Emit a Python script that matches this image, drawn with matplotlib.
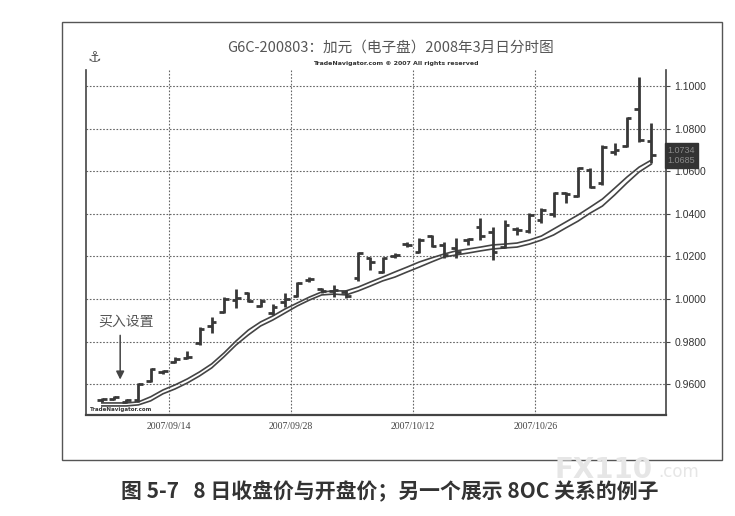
import matplotlib
matplotlib.use("Agg")
import matplotlib.pyplot as plt
from matplotlib.patches import Rectangle
import pandas as pd

plt.rcParams["font.family"] = ["Noto Sans CJK SC", "DejaVu Sans"]

# ----------------------------------------------------------------------
# Data (daily OHLC, CAD futures)
# ----------------------------------------------------------------------
dates = pd.bdate_range("2007-09-06", periods=46)

opens = [0.9526, 0.9530, 0.9516, 0.9526, 0.9615, 0.9657, 0.9704, 0.9723, 0.9793, 0.9873,
         0.9939, 0.9995, 1.0028, 0.9967, 0.9934, 0.9986, 1.0014, 1.0089, 1.0047, 1.0038,
         1.0033, 1.0099, 1.0193, 1.0127, 1.0202, 1.0258, 1.0221, 1.0296, 1.0254, 1.0240,
         1.0277, 1.0338, 1.0315, 1.0244, 1.0329, 1.0319, 1.0371, 1.0399, 1.0498, 1.0484,
         1.0606, 1.0545, 1.0691, 1.0719, 1.0893, 1.0742]
highs = [0.9535, 0.9544, 0.9530, 0.9606, 0.9676, 0.9667, 0.9728, 0.9756, 0.9868, 0.9915,
         1.0009, 1.0047, 1.0033, 1.0000, 0.9977, 1.0028, 1.0080, 1.0103, 1.0052, 1.0066,
         1.0042, 1.0221, 1.0197, 1.0197, 1.0216, 1.0268, 1.0287, 1.0301, 1.0268, 1.0287,
         1.0287, 1.0381, 1.0338, 1.0371, 1.0338, 1.0404, 1.0428, 1.0503, 1.0503, 1.0620,
         1.0615, 1.0723, 1.0733, 1.0855, 1.1043, 1.0827]
lows = [0.9516, 0.9526, 0.9512, 0.9516, 0.9610, 0.9648, 0.9699, 0.9718, 0.9784, 0.9840,
        0.9934, 0.9958, 0.9986, 0.9962, 0.9925, 0.9962, 1.0009, 1.0080, 1.0028, 1.0009,
        1.0005, 1.0085, 1.0136, 1.0122, 1.0193, 1.0244, 1.0216, 1.0244, 1.0193, 1.0193,
        1.0254, 1.0277, 1.0183, 1.0240, 1.0301, 1.0310, 1.0357, 1.0385, 1.0451, 1.0479,
        1.0521, 1.0536, 1.0677, 1.0714, 1.0738, 1.0639]
closes = [0.9530, 0.9540, 0.9526, 0.9601, 0.9671, 0.9662, 0.9718, 0.9728, 0.9859, 0.9892,
          1.0000, 1.0005, 0.9991, 0.9991, 0.9962, 1.0000, 1.0075, 1.0094, 1.0038, 1.0042,
          1.0014, 1.0216, 1.0174, 1.0193, 1.0207, 1.0254, 1.0277, 1.0249, 1.0207, 1.0221,
          1.0282, 1.0296, 1.0221, 1.0348, 1.0324, 1.0395, 1.0418, 1.0498, 1.0494, 1.0615,
          1.0526, 1.0714, 1.0700, 1.0850, 1.0747, 1.0677]

# 8-day moving averages as drawn (close above, open below)
ma_close = [0.9511, 0.9511, 0.9511, 0.9516, 0.9540, 0.9572, 0.9596, 0.9624, 0.9657, 0.9695,
            0.9746, 0.9803, 0.9854, 0.9892, 0.9920, 0.9953, 0.9981, 1.0009, 1.0033, 1.0038,
            1.0038, 1.0056, 1.0080, 1.0103, 1.0127, 1.0150, 1.0174, 1.0193, 1.0211, 1.0226,
            1.0235, 1.0244, 1.0254, 1.0258, 1.0263, 1.0277, 1.0296, 1.0329, 1.0362, 1.0395,
            1.0432, 1.0470, 1.0521, 1.0573, 1.0620, 1.0653]
ma_open = [0.9497, 0.9497, 0.9497, 0.9502, 0.9521, 0.9554, 0.9577, 0.9605, 0.9638, 0.9676,
           0.9728, 0.9784, 0.9831, 0.9873, 0.9901, 0.9934, 0.9967, 0.9995, 1.0019, 1.0023,
           1.0019, 1.0038, 1.0061, 1.0085, 1.0103, 1.0127, 1.0150, 1.0174, 1.0197, 1.0207,
           1.0216, 1.0226, 1.0235, 1.0240, 1.0244, 1.0258, 1.0277, 1.0301, 1.0334, 1.0366,
           1.0404, 1.0437, 1.0489, 1.0545, 1.0597, 1.0634]

tick_labels = ["2007/09/14", "2007/09/28", "2007/10/12", "2007/10/26"]
price_ticks = [0.96, 0.98, 1.00, 1.02, 1.04, 1.06, 1.08, 1.10]
box_labels = ["1.0734", "1.0685"]

title = "G6C-200803：加元（电子盘）2008年3月日分时图"
caption = "图 5-7   8 日收盘价与开盘价；另一个展示 8OC 关系的例子"

# ----------------------------------------------------------------------
# Plot
# ----------------------------------------------------------------------
fig = plt.figure(figsize=(7.35, 5.16), dpi=100)
ax = fig.add_axes([0.117, 0.196, 0.789, 0.668])

x = list(range(len(opens)))
bar_col = "#383838"
ax.vlines(x, lows, highs, color=bar_col, lw=2.0, zorder=3)
ax.hlines(opens, [i - 0.38 for i in x], x, color=bar_col, lw=2.0, zorder=3)
ax.hlines(closes, x, [i + 0.38 for i in x], color=bar_col, lw=2.0, zorder=3)

ax.plot(x, ma_close, color="#444444", lw=1.2, zorder=2)
ax.plot(x, ma_open, color="#444444", lw=1.2, zorder=2)

ax.set_xlim(-1.3, 46.2)
ax.set_ylim(0.9455, 1.1076)

tick_pos = [list(dates.strftime("%Y/%m/%d")).index(t) - 0.5 for t in tick_labels]
ax.set_xticks(tick_pos)
ax.set_xticklabels(tick_labels, family="Liberation Serif", fontsize=7, color="#444")
ax.tick_params(axis="x", length=0, pad=5)

ax.yaxis.tick_right()
ax.set_yticks(price_ticks)
ax.set_yticklabels([f"{p:.4f}" for p in price_ticks], family="Liberation Sans",
                   fontsize=7.5, color="#333")
ax.tick_params(axis="y", length=3, width=0.8, pad=3, color="#444")

ax.grid(True, color="#666", linestyle=(0, (1.5, 1.5)), lw=0.8)
ax.set_axisbelow(True)
ax.spines["top"].set_visible(False)
for s in ["left", "right", "bottom"]:
    ax.spines[s].set_color("#444")
ax.spines["left"].set_linewidth(1.2)
ax.spines["right"].set_linewidth(1.2)
ax.spines["bottom"].set_linewidth(1.6)

# last price box on right axis
ax.text(1.003, 0.752, box_labels[0] + "\n" + box_labels[1], transform=ax.transAxes,
        family="Liberation Sans", fontsize=6.5, color="#8a8a8a", va="center", ha="left",
        linespacing=1.15, zorder=5,
        bbox=dict(boxstyle="square,pad=0.3", fc="#333", ec="#333"))

# annotation
ax.text(2.0, 0.9892, "买入设置", fontsize=10, color="#555", ha="center", va="center")
ax.annotate("", xy=(1.5, 0.9608), xytext=(1.5, 0.9842),
            arrowprops=dict(arrowstyle="-|>", color="#444", lw=1.1, mutation_scale=12))

ax.text(0.006, 0.012, "TradeNavigator.com", transform=ax.transAxes, fontsize=4,
        weight="bold", color="#333", family="DejaVu Sans")

# titles and frame
fig.text(0.531, 0.907, title, ha="center", va="center", fontsize=10.5, color="#555")
fig.text(0.539, 0.877, "TradeNavigator.com © 2007 All rights reserved", ha="center",
         va="center", fontsize=4.5, weight="bold", color="#333", family="DejaVu Sans")
fig.text(0.129, 0.889, "⚓", ha="center", va="center", fontsize=11, color="#555",
         family="DejaVu Sans")
fig.patches.append(Rectangle((0.0844, 0.1085), 0.898, 0.849, transform=fig.transFigure,
                             fill=False, ec="#555", lw=1.0))

fig.text(0.755, 0.09, "FX110", ha="left", va="center", fontsize=20, weight="bold",
         color="#e6e6e6", family="DejaVu Sans")
fig.text(0.895, 0.085, ".com", ha="left", va="center", fontsize=12, color="#e6e6e6",
         family="DejaVu Sans")

fig.text(0.53, 0.047, caption, ha="center", va="center", fontsize=15, weight="bold",
         color="#333")

fig.savefig("out.png", dpi=100)
